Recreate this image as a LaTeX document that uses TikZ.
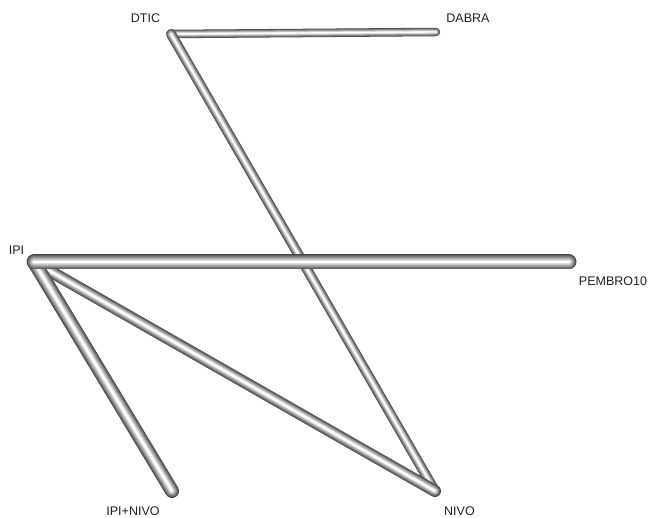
\documentclass[tikz,border=0pt]{standalone}
\usepackage{fontspec}
\setmainfont{Liberation Sans}
\newcommand\tubeline[3]{%
  \foreach \f/\c in {1/black!72, 0.88/black!62, 0.76/black!52, 0.64/black!42, 0.52/black!32, 0.4/black!22, 0.28/black!12, 0.16/white}{%
    \draw[line width=\f*#1pt, color=\c, line cap=round, line join=round] (#2) -- (#3);}%
}
\begin{document}
\begin{tikzpicture}[x=1pt,y=-1pt,
  lbl/.style={font=\fontsize{12.5}{14}\selectfont, text=black!88, inner sep=0pt}]
\useasboundingbox (0,0) rectangle (648,518);
\coordinate (DTIC) at (171,34);
\coordinate (DABRA) at (436,32);
\coordinate (IPI) at (34,262);
\coordinate (PEMBRO) at (569,262);
\coordinate (IPIN) at (172,491);
\coordinate (NIVO) at (435,491);
\tubeline{8.5}{DTIC}{DABRA}
\tubeline{10}{DTIC}{NIVO}
\tubeline{12}{IPI}{NIVO}
\tubeline{14}{IPI}{IPIN}
\tubeline{15}{IPI}{PEMBRO}
\node[lbl] (lDTIC) at (145.5,18) {DTIC};
\node[lbl] (lDABRA) at (468,18) {DABRA};
\node[lbl] (lIPI) at (16.5,250.5) {IPI};
\node[lbl] (lPEMBRO) at (613,281) {PEMBRO10};
\node[lbl] (lIPIN) at (133,511) {IPI+NIVO};
\node[lbl] (lNIVO) at (459.5,511) {NIVO};
\end{tikzpicture}
\end{document}
